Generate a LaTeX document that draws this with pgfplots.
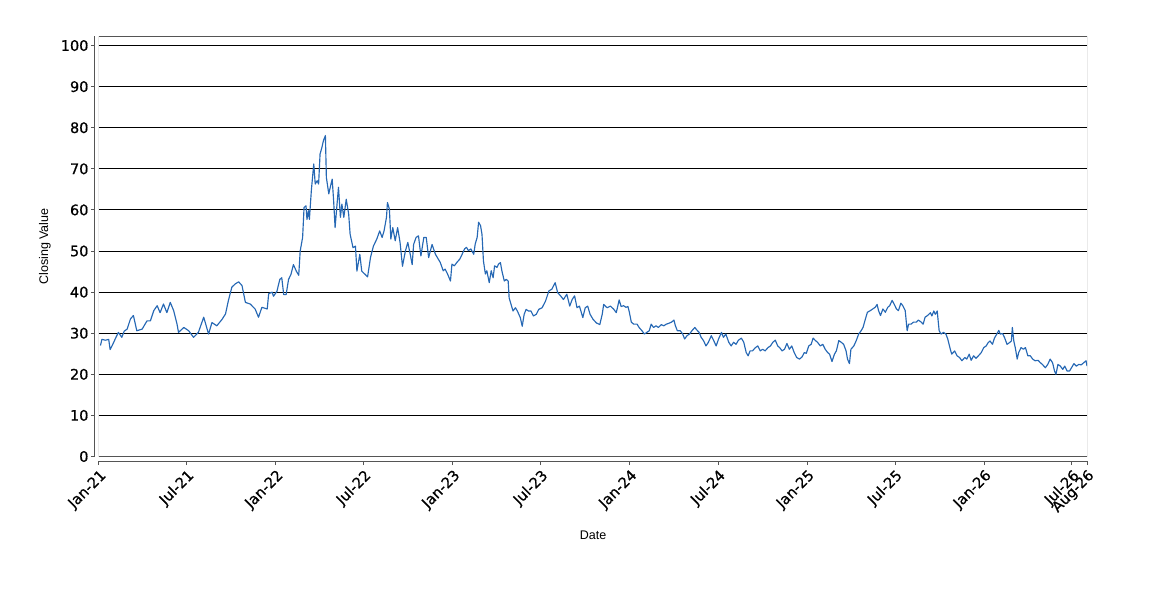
\documentclass[border=0pt]{standalone}
\usepackage{pgfplots}
\pgfplotsset{compat=1.18}
\usepackage{fontspec}
\setmainfont{DejaVu Sans}
\newfontfamily\tickfont[FakeBold=0.6]{DejaVu Sans}
\newfontfamily\labelfont{Liberation Sans}
\definecolor{lineblue}{RGB}{38,104,180}
\definecolor{boxgray}{RGB}{85,85,85}
\begin{document}
\begin{tikzpicture}
\useasboundingbox (-99pt,-143.5pt) rectangle (1051pt,456.5pt);
\begin{axis}[
  at={(0pt,0pt)}, anchor=south west,
  scale only axis, width=988pt, height=420pt,
  xmin=0, xmax=2038, ymin=0, ymax=102.2,
  axis x line*=bottom, axis y line*=left,
  axis x line shift=4.5pt, axis y line shift=4pt,
  axis line style={boxgray, line width=1pt, -},
  tick align=outside, major tick length=4pt,
  tick style={boxgray, line width=1pt},
  xtick={0,181,365,546,730,911,1095,1277,1461,1642,1826,2007,2038},
  xticklabels={Jan-21,Jul-21,Jan-22,Jul-22,Jan-23,Jul-23,Jan-24,Jul-24,Jan-25,Jul-25,Jan-26,Jul-26,Aug-26},
  ytick={0,10,20,30,40,50,60,70,80,90,100},
  minor tick num=0,
  ymajorgrids, grid style={black, line width=1pt},
  /pgf/number format/assume math mode=true,
  ticklabel style={font=\tickfont\fontsize{14.5}{15}\selectfont},
  yticklabel style={anchor=east, xshift=1pt},
  xticklabel style={rotate=45, anchor=north east, xshift=1pt, yshift=1pt},
  xlabel={Date}, ylabel={Closing Value},
  label style={font=\labelfont\fontsize{12.5}{14}\selectfont},
  xlabel style={at={(axis description cs:0.5,-0.1869)}, anchor=center},
  ylabel style={at={(axis description cs:-0.0547,0.5)}, anchor=center},
]
\addplot[lineblue, line width=1.15pt, line join=round] coordinates {
(3,27.0)(6,28.5)(13,28.3)(20,28.5)(23,26.0)(30,27.7)(35,29.0)(40,30.2)(47,29.0)(52,30.5)(58,31.0)(65,33.5)(71,34.3)(78,30.6)(89,31.0)(99,33.0)(106,33.0)(113,35.5)(120,36.7)(126,35.0)(133,37.1)(140,35.0)(147,37.5)(154,35.5)(161,32.2)(164,30.2)(175,31.4)(185,30.6)(195,29.0)(205,30.2)(216,33.9)(226,29.8)(233,32.6)(243,31.8)(254,33.4)(261,34.7)(267,38.0)(274,41.2)(281,42.0)(288,42.5)(295,41.6)(302,37.5)(312,37.1)(322,35.9)(329,33.9)(336,36.3)(347,35.9)(350,39.6)(357,40.0)
(360,39.0)(367,40.2)(373,43.1)(377,43.5)(381,39.4)(386,39.4)(391,43.1)(396,44.3)(401,46.7)(407,45.1)(412,44.1)(415,50.0)(420,53.3)(423,60.6)(427,61.0)(429,57.7)(432,59.8)(434,57.7)(438,64.7)(443,71.2)(446,66.3)(450,67.1)(453,66.3)(456,73.6)(460,75.3)(463,76.9)(467,78.1)(469,67.9)(474,63.9)(477,65.5)(481,67.5)(484,62.2)(487,55.7)(491,61.4)(494,65.5)(498,58.2)(501,61.4)(505,58.2)(510,62.6)(515,59.0)(518,54.1)(524,50.8)(529,51.2)(532,45.1)(538,49.2)(542,45.1)(549,44.3)(554,43.7)(560,48.4)(566,51.2)(573,52.9)(579,54.9)(584,53.3)(588,54.9)(593,58.2)(595,61.8)(599,60.2)(602,52.9)(606,55.7)(611,52.5)(616,55.7)(621,52.1)(626,46.3)(632,50.0)(637,52.1)(642,49.2)(646,46.7)(649,51.6)(654,53.3)(659,53.7)(664,48.8)(670,53.3)(675,53.3)(680,48.4)(687,51.6)(694,49.2)
(704,47.2)(710,45.2)(714,45.6)(719,44.4)(725,42.7)(728,46.8)(733,46.4)(738,47.2)(744,48.0)(749,49.2)(754,50.5)(758,50.9)(762,50.1)(767,50.5)(773,49.2)(776,51.7)(780,53.3)(783,57.0)(787,56.2)(790,54.1)(793,47.6)(797,44.4)(800,45.2)(805,42.3)(809,45.2)(813,43.5)(816,46.4)(821,46.0)(824,46.8)(828,47.2)(831,45.2)(836,42.7)(840,43.1)(844,42.7)(846,38.6)(850,37.0)(854,35.4)(859,36.2)(863,35.4)(869,33.8)(873,31.7)(877,34.6)(881,35.8)(886,35.4)(891,35.4)(896,34.2)(902,34.6)(907,35.8)(914,36.2)(921,37.8)(928,40.3)(934,40.7)(941,42.3)(946,39.9)(952,39.1)(958,38.2)(965,39.5)(971,36.6)(976,38.2)(981,39.1)(986,36.2)(991,36.6)(998,33.8)(1003,36.2)(1008,36.6)(1013,34.6)(1019,33.4)(1026,32.5)(1033,32.1)(1038,34.6)(1041,37.0)(1048,36.2)(1055,36.6)(1062,35.8)(1067,35.0)
(1073,38.1)(1077,36.5)(1082,36.7)(1087,36.3)(1091,36.5)(1094,35.1)(1098,32.7)(1103,32.2)(1110,32.2)(1114,31.4)(1120,30.6)(1125,29.8)(1130,30.2)(1135,30.6)(1139,32.2)(1144,31.4)(1149,31.8)(1154,31.4)(1160,32.1)(1165,31.8)(1170,32.2)(1175,32.4)(1181,32.7)(1186,33.2)(1189,31.8)(1193,30.6)(1199,30.6)(1204,29.8)(1208,28.6)(1213,29.4)(1218,29.8)(1223,30.6)(1229,31.4)(1233,30.8)(1238,30.2)(1242,29.0)(1247,28.2)(1252,26.9)(1257,27.8)(1263,29.4)(1268,28.2)(1273,26.9)(1278,28.6)(1284,30.2)(1288,29.0)(1293,29.8)(1299,27.8)(1304,26.9)(1309,27.8)(1314,27.3)(1319,28.3)(1325,28.8)(1330,27.8)(1335,25.3)(1339,24.5)(1343,25.7)(1348,25.7)(1354,26.5)(1359,26.9)(1364,25.7)(1369,26.1)(1374,25.7)(1380,26.5)
(1385,26.9)(1390,27.8)(1395,28.3)(1400,26.9)(1404,26.5)(1409,25.7)(1414,26.1)(1419,27.5)(1424,26.1)(1429,26.9)(1434,25.3)(1439,24.1)(1445,23.7)(1450,24.2)(1455,25.3)(1459,25.1)(1464,26.9)(1469,27.3)(1473,28.8)(1478,28.2)(1482,27.8)(1488,26.9)(1493,27.3)(1498,26.1)(1503,25.3)(1507,24.9)(1512,23.1)(1517,24.9)(1521,25.7)(1526,28.2)(1531,27.8)(1536,27.3)(1541,25.7)(1544,23.7)(1548,22.6)(1551,26.1)(1557,26.9)(1562,28.2)(1567,29.8)(1572,30.6)(1576,31.4)(1581,33.5)(1585,35.1)(1591,35.5)(1596,35.9)(1601,36.3)(1605,37.0)(1608,35.5)(1612,34.3)(1617,35.9)(1622,35.1)(1627,36.3)(1631,36.7)(1636,38.0)(1640,37.1)(1645,35.9)(1649,35.5)(1654,37.3)(1658,36.7)(1663,35.5)(1667,30.6)(1670,32.2)(1675,32.2)(1680,32.7)(1686,32.7)(1690,33.2)(1696,32.7)(1700,32.2)(1704,33.9)(1709,34.3)
(1715,35.0)(1718,34.2)(1722,35.4)(1725,34.6)(1729,35.4)(1731,33.0)(1733,30.6)(1737,29.8)(1742,30.2)(1747,29.8)(1751,28.5)(1756,26.1)(1759,24.9)(1765,25.7)(1770,24.5)(1775,24.1)(1780,23.3)(1786,24.1)(1790,23.7)(1795,24.9)(1799,23.4)(1804,24.5)(1809,23.9)(1814,24.5)(1820,25.3)(1825,26.5)(1830,26.9)(1834,27.7)(1838,28.1)(1843,27.3)(1847,28.8)(1852,29.8)(1856,30.7)(1859,29.8)(1864,29.9)(1868,28.9)(1873,27.3)(1878,27.7)(1882,28.1)(1884,31.4)(1887,28.1)(1890,26.5)(1894,23.7)(1897,25.3)(1902,26.5)(1907,26.1)(1911,26.5)(1916,24.5)(1921,24.5)(1926,23.7)(1931,23.3)(1937,23.4)(1942,22.8)(1946,22.4)(1952,21.6)(1957,22.4)(1962,23.7)(1967,22.8)(1971,20.8)(1974,20.0)(1978,22.4)(1983,22.0)(1988,21.2)(1992,22.0)(1997,20.8)(2002,20.8)(2006,21.6)(2011,22.6)(2016,22.0)(2021,22.4)(2026,22.3)(2031,22.8)(2036,23.3)(2038,22.0)
};
\draw[boxgray, line width=1pt] (rel axis cs:0,0) rectangle (rel axis cs:1,1);
\end{axis}
\end{tikzpicture}
\end{document}
